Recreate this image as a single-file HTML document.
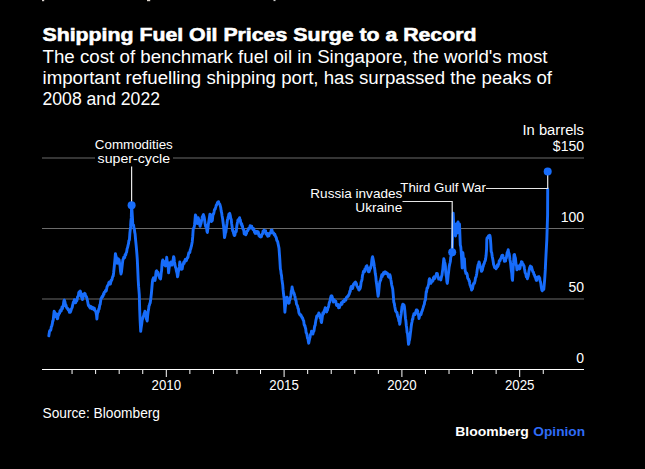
<!DOCTYPE html>
<html><head><meta charset="utf-8"><title>Shipping Fuel Oil Prices Surge to a Record</title>
<style>html,body{margin:0;padding:0;background:#000;width:645px;height:469px;overflow:hidden}</style>
</head><body>
<svg width="645" height="469" viewBox="0 0 645 469" style="position:absolute;left:0;top:0" font-family="'Liberation Sans', sans-serif">
<line x1="42" y1="158.0" x2="584" y2="158.0" stroke="#6b6b6b" stroke-width="1"/><line x1="42" y1="228.5" x2="584" y2="228.5" stroke="#6b6b6b" stroke-width="1"/><line x1="42" y1="299.0" x2="584" y2="299.0" stroke="#6b6b6b" stroke-width="1"/>
<line x1="42" y1="369.5" x2="584" y2="369.5" stroke="#fff" stroke-width="1"/>
<line x1="72.06" y1="369" x2="72.06" y2="374" stroke="#fff" stroke-width="1"/><line x1="95.62" y1="369" x2="95.62" y2="374" stroke="#fff" stroke-width="1"/><line x1="119.18" y1="369" x2="119.18" y2="374" stroke="#fff" stroke-width="1"/><line x1="142.74" y1="369" x2="142.74" y2="374" stroke="#fff" stroke-width="1"/><line x1="166.30" y1="369" x2="166.30" y2="377" stroke="#fff" stroke-width="1"/><line x1="189.86" y1="369" x2="189.86" y2="374" stroke="#fff" stroke-width="1"/><line x1="213.42" y1="369" x2="213.42" y2="374" stroke="#fff" stroke-width="1"/><line x1="236.98" y1="369" x2="236.98" y2="374" stroke="#fff" stroke-width="1"/><line x1="260.54" y1="369" x2="260.54" y2="374" stroke="#fff" stroke-width="1"/><line x1="284.10" y1="369" x2="284.10" y2="377" stroke="#fff" stroke-width="1"/><line x1="307.66" y1="369" x2="307.66" y2="374" stroke="#fff" stroke-width="1"/><line x1="331.22" y1="369" x2="331.22" y2="374" stroke="#fff" stroke-width="1"/><line x1="354.78" y1="369" x2="354.78" y2="374" stroke="#fff" stroke-width="1"/><line x1="378.34" y1="369" x2="378.34" y2="374" stroke="#fff" stroke-width="1"/><line x1="401.90" y1="369" x2="401.90" y2="377" stroke="#fff" stroke-width="1"/><line x1="425.46" y1="369" x2="425.46" y2="374" stroke="#fff" stroke-width="1"/><line x1="449.02" y1="369" x2="449.02" y2="374" stroke="#fff" stroke-width="1"/><line x1="472.58" y1="369" x2="472.58" y2="374" stroke="#fff" stroke-width="1"/><line x1="496.14" y1="369" x2="496.14" y2="374" stroke="#fff" stroke-width="1"/><line x1="519.70" y1="369" x2="519.70" y2="377" stroke="#fff" stroke-width="1"/><line x1="543.26" y1="369" x2="543.26" y2="374" stroke="#fff" stroke-width="1"/>
<path d="M48.8,335.9 L49.2,333.6 L49.5,331.3 L49.9,330.5 L50.4,330.5 L50.9,329.5 L51.3,326.8 L51.6,326.7 L52.0,325.2 L52.4,323.4 L52.7,321.0 L53.1,320.9 L53.6,316.1 L54.1,311.3 L54.5,311.7 L54.8,314.7 L55.2,316.7 L55.6,314.5 L55.9,313.7 L56.3,314.0 L56.8,316.2 L57.3,318.8 L57.7,318.7 L58.0,315.5 L58.4,315.6 L58.8,313.6 L59.2,313.6 L59.6,313.3 L60.0,310.8 L60.4,310.6 L60.8,309.7 L61.2,311.0 L61.6,309.2 L62.0,307.0 L62.4,308.7 L62.8,306.2 L63.2,306.0 L63.6,303.0 L63.9,300.9 L64.3,300.1 L64.8,301.4 L65.3,303.9 L65.7,305.9 L66.0,305.1 L66.4,307.1 L66.8,307.9 L67.2,308.6 L67.6,308.3 L68.0,309.2 L68.3,310.1 L68.7,309.5 L69.1,310.3 L69.4,312.4 L69.8,311.2 L70.3,312.2 L70.7,311.3 L71.1,310.0 L71.5,308.6 L71.9,308.1 L72.3,307.0 L72.6,305.2 L73.0,303.9 L73.3,302.2 L73.7,302.6 L74.1,301.3 L74.4,299.6 L74.8,299.9 L75.1,302.0 L75.5,302.8 L76.0,301.8 L76.5,300.7 L76.8,300.8 L77.2,299.2 L77.6,296.8 L77.9,296.4 L78.3,296.4 L78.8,292.4 L79.2,292.1 L79.6,291.5 L79.9,292.2 L80.3,291.1 L80.8,292.7 L81.3,296.4 L81.7,297.4 L82.0,297.2 L82.4,299.6 L82.8,298.3 L83.1,296.9 L83.5,294.3 L83.9,294.4 L84.3,295.1 L84.7,293.3 L85.1,293.7 L85.5,295.2 L85.9,295.9 L86.3,296.8 L86.7,297.5 L87.2,299.5 L87.7,301.7 L88.1,304.0 L88.4,305.6 L88.8,305.5 L89.2,306.1 L89.6,307.3 L90.0,306.1 L90.4,308.1 L90.8,308.0 L91.2,306.6 L91.6,307.5 L92.0,308.9 L92.5,308.8 L92.9,307.6 L93.3,308.7 L93.7,308.7 L94.0,309.8 L94.3,308.2 L94.7,309.9 L95.2,310.8 L95.6,311.0 L96.1,313.0 L96.5,314.9 L96.9,319.0 L97.3,314.3 L97.8,312.2 L98.2,312.0 L98.7,309.1 L99.1,309.2 L99.5,306.5 L99.8,304.9 L100.2,304.4 L100.6,301.3 L101.0,298.6 L101.5,298.3 L101.9,297.0 L102.3,296.3 L102.7,296.6 L103.1,295.6 L103.5,293.8 L103.9,294.4 L104.3,292.1 L104.7,292.0 L105.1,291.7 L105.5,290.5 L105.9,291.3 L106.3,290.7 L106.7,288.5 L107.1,286.6 L107.5,285.8 L107.9,285.1 L108.3,285.0 L108.8,282.7 L109.3,282.0 L109.7,282.6 L110.0,283.6 L110.4,284.0 L110.8,282.2 L111.2,280.3 L111.6,280.4 L112.0,279.5 L112.4,277.5 L112.8,276.4 L113.2,276.0 L113.6,273.0 L114.0,269.1 L114.5,264.0 L115.0,258.8 L115.4,253.6 L115.8,255.6 L116.3,256.9 L116.8,260.7 L117.2,263.4 L117.7,259.7 L118.2,258.7 L118.7,260.4 L119.1,259.7 L119.6,263.8 L120.1,266.2 L120.5,271.2 L121.0,274.0 L121.5,271.9 L121.9,268.1 L122.4,263.6 L122.9,259.7 L123.4,258.8 L123.8,257.2 L124.3,257.8 L124.7,257.5 L125.0,255.1 L125.3,254.4 L125.7,255.0 L126.2,252.7 L126.6,252.2 L127.1,248.8 L127.6,247.5 L128.1,245.1 L128.5,243.7 L128.9,240.5 L129.4,240.0 L129.9,232.8 L130.6,226.9 L130.9,220.9 L131.3,217.9 L131.6,205.2 L132.0,210.6 L132.4,216.9 L132.8,224.6 L133.2,225.1 L133.6,225.1 L133.9,228.6 L134.3,228.4 L134.7,232.1 L135.1,234.0 L135.4,237.7 L135.8,241.8 L136.2,245.8 L136.6,250.3 L136.9,254.1 L137.3,259.7 L137.8,270.8 L138.2,279.9 L138.6,286.4 L138.9,289.8 L139.3,294.9 L139.7,309.8 L140.1,320.2 L140.7,331.4 L141.1,328.0 L141.6,324.7 L142.0,321.5 L142.3,319.5 L142.7,318.7 L143.2,316.7 L143.7,315.7 L144.1,313.5 L144.5,313.8 L144.9,311.3 L145.3,312.0 L145.7,313.3 L146.1,316.5 L146.5,319.4 L146.8,319.6 L147.2,321.0 L147.7,315.1 L148.2,311.3 L148.6,309.4 L149.0,305.9 L149.4,305.3 L149.8,303.5 L150.2,303.0 L150.5,300.8 L150.9,297.8 L151.4,293.3 L151.9,287.6 L152.3,283.0 L152.7,279.8 L153.1,278.9 L153.5,277.8 L153.9,278.3 L154.3,279.9 L154.6,279.9 L155.0,280.6 L155.4,278.3 L155.8,273.9 L156.2,271.3 L156.6,270.7 L157.0,272.6 L157.4,273.4 L157.8,272.1 L158.2,274.3 L158.6,275.3 L158.9,276.5 L159.3,276.7 L159.7,278.2 L160.1,277.4 L160.5,279.0 L160.9,276.2 L161.2,272.9 L161.6,270.5 L162.0,264.4 L162.4,261.2 L162.8,260.0 L163.2,260.9 L163.6,261.1 L164.0,262.0 L164.4,263.6 L164.8,265.3 L165.1,264.8 L165.5,265.9 L165.9,264.3 L166.3,261.6 L166.7,257.3 L167.1,261.0 L167.4,261.6 L167.8,264.3 L168.2,267.7 L168.6,272.8 L169.0,269.1 L169.4,266.2 L169.8,264.3 L170.2,262.6 L170.5,263.1 L170.9,262.0 L171.3,264.2 L171.7,265.1 L172.1,265.1 L172.5,262.9 L172.8,261.3 L173.2,259.6 L173.6,256.6 L174.0,257.7 L174.4,261.7 L174.8,263.5 L175.2,266.3 L175.6,267.5 L176.0,268.2 L176.4,271.1 L176.8,272.4 L177.1,273.6 L177.5,276.7 L177.9,275.5 L178.3,272.1 L178.7,270.5 L179.1,268.6 L179.4,266.2 L179.8,262.0 L180.2,263.5 L180.6,265.3 L181.0,267.4 L181.4,269.3 L181.8,269.1 L182.2,269.0 L182.6,266.4 L182.9,264.7 L183.3,264.3 L183.7,262.2 L184.1,263.4 L184.5,261.2 L184.9,261.7 L185.2,259.4 L185.6,261.1 L186.0,259.7 L186.4,260.7 L186.8,259.2 L187.2,257.8 L187.6,257.9 L188.0,257.3 L188.4,254.6 L188.9,252.6 L189.3,252.5 L189.8,252.5 L190.3,249.6 L190.7,248.8 L191.1,247.1 L191.5,245.8 L192.2,241.9 L192.7,236.9 L193.2,229.3 L193.7,228.0 L194.2,227.1 L194.6,224.2 L195.0,220.0 L195.4,215.0 L195.9,216.0 L196.3,218.8 L196.8,220.4 L197.3,223.5 L197.8,220.0 L198.2,217.8 L198.6,218.9 L199.1,221.6 L199.6,224.2 L200.1,226.3 L200.6,224.2 L201.0,223.5 L201.5,220.9 L202.0,218.8 L202.3,216.6 L202.7,217.9 L203.1,215.2 L203.4,214.6 L203.9,216.1 L204.3,217.8 L204.8,221.4 L205.2,224.4 L205.7,226.6 L206.2,226.3 L206.6,228.1 L207.0,231.6 L207.4,232.4 L207.9,228.4 L208.3,224.4 L208.7,222.0 L209.1,219.5 L209.5,216.9 L209.9,214.3 L210.4,214.6 L210.9,217.9 L211.4,221.6 L211.9,220.2 L212.3,220.7 L212.8,215.9 L213.2,214.1 L213.7,213.6 L214.2,211.3 L214.5,209.4 L214.9,209.3 L215.2,209.1 L215.6,207.5 L215.9,206.7 L216.3,205.1 L216.7,204.8 L217.0,203.8 L217.4,203.0 L217.9,201.9 L218.2,203.2 L218.6,201.7 L219.0,203.5 L219.3,203.8 L219.8,204.3 L220.2,205.6 L220.7,207.5 L221.2,211.1 L221.7,213.1 L222.1,216.0 L222.6,218.8 L223.1,222.7 L223.6,226.3 L224.0,231.0 L224.5,237.6 L224.9,236.0 L225.4,232.9 L225.8,232.4 L226.2,229.4 L226.6,226.1 L227.0,223.5 L227.4,220.0 L227.8,218.6 L228.1,217.2 L228.5,216.4 L228.8,214.4 L229.2,213.8 L229.7,213.4 L230.1,214.9 L230.4,216.2 L230.8,219.0 L231.2,219.1 L231.6,223.4 L232.1,226.6 L232.4,229.4 L232.8,231.2 L233.2,230.8 L233.5,233.1 L233.8,233.8 L234.2,235.4 L234.6,235.5 L234.9,235.0 L235.2,233.0 L235.6,232.0 L236.0,232.0 L236.3,231.2 L236.8,226.2 L237.2,223.7 L237.6,221.8 L237.9,220.1 L238.3,220.8 L238.7,219.1 L239.1,219.3 L239.6,217.7 L239.9,220.4 L240.3,219.7 L240.7,222.8 L241.0,223.7 L241.3,224.7 L241.7,223.6 L242.1,226.3 L242.4,225.6 L242.9,228.9 L243.3,229.4 L243.8,230.1 L244.2,233.9 L244.7,234.1 L245.0,233.5 L245.4,233.6 L245.8,234.8 L246.1,233.1 L246.5,233.5 L246.9,231.0 L247.2,231.2 L247.6,230.9 L248.0,230.3 L248.3,229.2 L248.7,228.2 L249.1,228.0 L249.4,228.0 L249.8,228.2 L250.1,225.6 L250.5,226.7 L250.8,226.1 L251.3,226.7 L251.7,226.2 L252.2,228.4 L252.6,228.3 L253.0,229.5 L253.3,229.6 L253.7,228.6 L254.1,230.3 L254.5,232.3 L254.9,232.3 L255.2,233.4 L255.6,231.4 L256.0,233.1 L256.4,232.2 L256.8,231.4 L257.1,233.4 L257.5,231.7 L257.9,232.2 L258.2,231.8 L258.6,233.4 L258.9,235.5 L259.3,235.0 L259.8,236.6 L260.2,235.5 L260.7,236.9 L261.1,235.1 L261.4,236.8 L261.8,235.0 L262.1,234.1 L262.6,233.9 L263.0,231.3 L263.5,231.7 L264.0,230.1 L264.4,231.7 L264.9,230.8 L265.2,231.2 L265.6,230.7 L265.9,233.8 L266.3,233.1 L266.7,234.1 L267.1,235.1 L267.4,233.5 L267.8,236.4 L268.2,235.9 L268.6,234.0 L268.9,235.9 L269.3,234.1 L269.6,233.2 L270.0,233.1 L270.4,232.6 L270.8,233.0 L271.1,230.3 L271.5,230.3 L272.0,230.1 L272.4,232.2 L272.9,233.1 L273.2,232.8 L273.6,232.9 L273.9,233.5 L274.3,235.0 L274.8,234.3 L275.2,235.4 L275.7,236.9 L276.1,237.3 L276.4,238.2 L276.8,240.5 L277.1,240.6 L277.6,241.4 L278.0,243.4 L278.5,245.8 L279.0,248.1 L279.7,257.7 L280.4,269.0 L280.8,270.6 L281.1,273.7 L281.5,275.4 L281.9,279.4 L282.3,282.2 L282.7,284.9 L283.1,289.9 L283.5,293.6 L283.8,296.0 L284.2,298.8 L284.9,312.2 L285.3,307.3 L285.7,304.2 L286.1,300.3 L286.5,300.6 L286.8,297.1 L287.2,297.3 L287.6,299.8 L287.9,300.1 L288.3,301.8 L288.7,303.3 L289.1,303.2 L289.4,300.7 L289.8,299.9 L290.1,298.8 L290.5,297.0 L290.9,295.5 L291.3,291.2 L291.7,290.3 L292.1,286.9 L292.6,289.7 L293.1,291.3 L293.5,292.7 L293.9,293.0 L294.3,294.3 L294.7,295.6 L295.0,296.5 L295.4,299.6 L295.8,299.8 L296.1,300.9 L296.5,304.2 L296.9,304.8 L297.3,305.3 L297.6,306.3 L298.0,308.5 L298.4,308.6 L298.8,312.2 L299.2,313.7 L299.6,313.9 L300.0,315.1 L300.4,314.5 L300.9,315.0 L301.3,315.8 L301.7,317.1 L302.1,317.8 L302.5,317.7 L302.9,319.3 L303.3,320.3 L303.7,320.9 L304.1,324.3 L304.5,325.7 L304.9,325.6 L305.3,327.6 L305.7,328.6 L306.1,332.6 L306.5,333.1 L306.9,334.3 L307.2,336.2 L307.6,338.4 L308.0,338.5 L308.3,341.2 L308.7,343.2 L309.2,340.7 L309.7,338.4 L310.1,337.0 L310.4,334.6 L310.8,334.1 L311.2,333.4 L311.5,331.2 L311.9,332.0 L312.4,332.3 L312.9,334.1 L313.3,331.8 L313.6,331.7 L314.0,330.9 L314.4,327.8 L314.7,325.9 L315.1,325.6 L315.5,322.7 L315.9,320.1 L316.3,318.8 L316.7,316.2 L317.1,315.8 L317.4,315.9 L317.8,315.1 L318.1,314.7 L318.4,314.7 L318.8,313.0 L319.2,313.7 L319.6,314.6 L320.0,317.7 L320.4,317.3 L320.8,318.0 L321.1,321.5 L321.5,322.6 L322.0,319.3 L322.5,315.2 L322.9,312.8 L323.3,314.1 L323.7,313.2 L324.1,310.9 L324.5,310.2 L324.8,309.5 L325.2,307.7 L325.6,309.7 L325.9,308.8 L326.2,311.0 L326.6,312.0 L327.0,310.6 L327.5,310.1 L327.9,307.7 L328.3,307.3 L328.6,306.0 L329.0,304.0 L329.4,302.4 L329.8,302.0 L330.2,299.7 L330.6,298.2 L331.0,296.0 L331.4,295.8 L331.8,295.9 L332.2,296.8 L332.6,298.6 L333.0,299.9 L333.4,302.0 L333.8,299.7 L334.2,299.7 L334.6,301.1 L335.0,300.7 L335.4,301.3 L335.8,301.3 L336.2,303.8 L336.6,305.5 L337.0,305.5 L337.4,304.5 L337.8,305.3 L338.2,304.6 L338.6,307.8 L339.0,307.7 L339.4,307.6 L339.8,306.1 L340.2,305.4 L340.6,304.5 L341.0,304.7 L341.4,302.6 L341.8,304.4 L342.2,303.4 L342.6,302.1 L343.0,301.1 L343.4,301.1 L343.8,301.3 L344.2,301.5 L344.6,299.4 L345.0,300.4 L345.4,299.2 L345.8,300.1 L346.2,298.1 L346.6,297.2 L347.0,297.0 L347.4,296.4 L347.8,296.5 L348.2,296.2 L348.6,294.9 L349.0,294.5 L349.4,293.7 L349.8,291.2 L350.2,291.7 L350.6,288.9 L350.9,287.4 L351.3,286.4 L351.7,287.8 L352.0,287.2 L352.4,288.5 L352.8,287.7 L353.2,284.9 L353.6,284.0 L354.0,284.3 L354.4,283.1 L354.8,283.7 L355.2,283.2 L355.6,282.1 L356.0,283.7 L356.4,283.6 L356.7,285.4 L357.1,286.4 L357.5,287.1 L357.9,287.9 L358.3,287.7 L358.7,289.6 L359.1,290.0 L359.5,287.2 L359.9,288.8 L360.3,287.9 L360.7,285.8 L361.1,282.3 L361.4,281.5 L361.8,280.5 L362.1,278.9 L362.5,275.4 L362.9,274.1 L363.2,272.5 L363.6,271.2 L364.0,270.9 L364.5,271.7 L364.9,269.0 L365.4,269.4 L365.8,268.7 L366.1,266.5 L366.5,266.7 L366.9,265.7 L367.3,268.5 L367.6,267.5 L368.0,271.1 L368.4,271.6 L368.8,271.1 L369.1,271.7 L369.5,270.6 L369.9,269.4 L370.3,267.5 L370.6,268.3 L371.0,266.0 L371.4,264.9 L371.8,260.7 L372.2,257.9 L372.6,256.7 L373.0,258.6 L373.4,260.6 L373.9,263.3 L374.3,266.3 L374.8,269.5 L375.3,273.8 L375.8,276.5 L376.2,281.3 L376.7,284.6 L377.2,288.8 L377.6,292.0 L378.1,296.3 L378.6,293.6 L379.0,288.8 L379.5,283.6 L380.0,281.3 L380.5,280.5 L380.9,279.2 L381.4,276.6 L381.8,274.8 L382.2,276.6 L382.5,275.3 L382.9,275.2 L383.3,273.3 L383.7,272.4 L384.0,272.4 L384.4,272.1 L384.7,273.7 L385.1,271.9 L385.5,272.5 L385.9,272.2 L386.2,272.8 L386.6,272.7 L387.0,273.8 L387.5,273.4 L387.9,274.5 L388.4,276.6 L388.8,277.1 L389.1,275.0 L389.4,276.5 L389.8,274.7 L390.3,276.3 L390.8,279.4 L391.2,281.5 L391.7,285.0 L392.2,286.9 L392.7,288.8 L393.3,295.6 L393.8,302.2 L394.3,303.5 L394.7,306.2 L395.2,308.8 L395.6,310.9 L395.9,311.4 L396.3,312.0 L396.6,312.2 L397.0,312.5 L397.4,315.2 L397.8,316.8 L398.1,317.1 L398.5,318.5 L398.9,321.1 L399.3,321.0 L399.7,324.3 L400.1,322.3 L400.4,318.7 L400.8,316.1 L401.2,313.7 L401.6,310.3 L402.0,306.7 L402.4,305.5 L402.8,304.2 L403.2,305.0 L403.6,306.8 L404.0,305.0 L404.4,306.7 L404.8,310.5 L405.1,314.1 L405.5,318.5 L405.9,321.0 L406.3,325.5 L406.7,327.9 L407.1,332.5 L407.5,333.4 L407.9,337.3 L408.5,344.3 L408.9,343.2 L409.2,340.6 L409.6,339.6 L410.0,336.6 L410.4,333.0 L410.8,330.2 L411.2,326.5 L411.6,323.7 L412.0,322.0 L412.4,319.2 L412.8,319.3 L413.2,316.1 L413.6,315.3 L413.9,313.7 L414.3,313.8 L414.7,314.6 L415.1,314.5 L415.5,312.6 L415.9,311.7 L416.3,310.0 L416.7,310.3 L417.1,310.1 L417.5,310.6 L417.9,312.6 L418.3,314.1 L418.6,315.3 L419.0,318.5 L419.4,316.6 L419.8,315.4 L420.2,315.0 L420.6,314.5 L420.9,314.7 L421.3,313.6 L421.6,311.9 L422.0,311.4 L422.4,310.0 L422.7,309.1 L423.1,307.9 L423.5,306.4 L423.9,305.1 L424.3,304.4 L424.7,301.5 L425.1,300.6 L425.5,299.7 L426.2,291.6 L426.6,291.9 L427.0,288.2 L427.5,288.2 L427.9,287.0 L428.3,285.3 L428.7,283.9 L429.1,279.9 L429.5,278.7 L430.0,279.6 L430.4,281.1 L430.9,283.4 L431.3,282.1 L431.6,281.3 L432.0,280.5 L432.4,281.5 L432.7,280.8 L433.1,280.5 L433.4,277.6 L433.8,278.7 L434.2,276.8 L434.5,278.4 L434.9,278.5 L435.2,276.8 L435.6,276.4 L436.0,275.9 L436.5,273.5 L436.9,273.9 L437.3,273.5 L437.7,275.8 L438.0,276.6 L438.4,277.7 L438.7,279.1 L439.1,278.7 L439.5,278.2 L440.0,278.1 L440.4,278.6 L440.8,279.9 L441.2,277.9 L441.6,276.3 L442.0,275.1 L442.4,271.7 L442.8,269.1 L443.1,265.7 L443.4,262.8 L443.8,258.8 L444.2,260.2 L444.6,262.1 L445.0,263.5 L445.4,266.0 L445.7,272.1 L446.1,275.2 L446.5,277.1 L446.9,281.9 L447.3,283.4 L447.7,280.3 L448.1,275.8 L448.5,272.9 L448.9,269.0 L449.2,266.6 L449.6,264.6 L450.0,263.0 L450.4,261.1 L450.7,257.3 L451.1,256.4 L451.5,255.0 L451.8,253.7 L452.2,252.3 L452.7,232.8 L453.2,213.2 L453.6,222.6 L454.0,232.0 L454.4,227.7 L454.8,226.0 L455.5,236.0 L455.9,230.1 L456.3,224.0 L456.8,228.7 L457.2,233.0 L457.6,227.2 L458.0,222.0 L458.4,225.2 L458.8,230.0 L459.5,224.0 L459.9,234.8 L460.3,245.0 L460.8,247.0 L461.2,252.0 L461.7,259.4 L462.2,268.0 L462.9,252.8 L463.3,257.3 L463.7,262.0 L464.4,258.7 L464.8,266.1 L465.2,270.7 L465.6,271.9 L465.9,273.4 L466.2,272.9 L466.6,272.9 L466.9,273.7 L467.3,275.2 L467.7,278.1 L468.1,278.8 L468.6,279.0 L469.0,281.1 L469.4,280.8 L469.7,283.5 L470.1,285.2 L470.4,285.6 L470.8,287.0 L471.2,287.8 L471.6,290.0 L472.0,289.3 L472.5,288.8 L472.9,286.3 L473.3,284.7 L473.6,283.4 L474.0,283.6 L474.4,283.3 L474.8,281.6 L475.1,280.8 L475.5,277.9 L475.9,277.3 L476.3,275.8 L476.8,273.2 L477.2,270.0 L477.6,267.6 L478.1,264.8 L478.5,265.2 L479.0,261.9 L479.4,262.8 L479.8,265.7 L480.1,265.4 L480.5,267.6 L480.9,268.6 L481.4,271.3 L481.8,271.2 L482.1,268.8 L482.4,269.9 L482.8,267.6 L483.3,266.3 L483.7,264.1 L484.2,263.8 L484.6,261.8 L484.9,261.2 L485.2,260.8 L485.6,259.1 L486.1,255.3 L486.6,248.8 L486.8,239.4 L487.2,237.7 L487.6,237.8 L488.0,237.5 L488.4,236.0 L488.7,237.7 L489.1,235.6 L489.5,235.2 L489.9,235.5 L490.3,237.5 L490.8,244.1 L491.2,251.6 L491.7,252.6 L492.2,256.3 L492.6,258.3 L493.1,261.0 L493.6,264.5 L494.1,265.7 L494.6,267.5 L495.0,267.7 L495.5,267.6 L496.0,268.8 L496.4,268.2 L496.9,266.6 L497.2,265.6 L497.6,264.7 L497.9,266.5 L498.3,264.7 L498.8,264.2 L499.2,260.8 L499.7,261.0 L500.1,260.8 L500.4,259.2 L500.8,258.5 L501.1,258.2 L501.6,256.3 L502.0,255.4 L502.4,255.1 L502.8,255.3 L503.1,256.8 L503.5,258.2 L504.0,258.7 L504.4,261.4 L504.9,261.0 L505.2,259.2 L505.6,261.0 L505.9,258.0 L506.3,258.2 L506.8,254.9 L507.2,252.5 L507.7,252.1 L508.2,249.7 L508.6,252.6 L509.1,253.5 L509.6,256.5 L510.0,260.0 L510.5,262.4 L511.0,267.6 L511.4,270.7 L511.8,273.6 L512.1,278.4 L512.5,280.3 L512.9,273.0 L513.2,267.2 L513.6,262.4 L514.0,254.9 L514.5,254.5 L514.9,256.6 L515.4,257.9 L515.8,261.8 L516.1,264.7 L516.5,265.5 L516.9,269.9 L517.3,267.6 L517.6,266.7 L518.0,268.3 L518.4,266.1 L518.8,265.9 L519.1,268.0 L519.5,269.0 L519.9,268.4 L520.3,266.2 L520.6,264.3 L521.0,264.7 L521.4,261.6 L521.8,262.5 L522.1,262.0 L522.5,264.0 L522.9,263.9 L523.3,264.5 L523.6,265.5 L524.0,265.8 L524.4,268.4 L524.8,270.6 L525.1,272.6 L525.5,273.2 L525.9,274.3 L526.3,276.8 L526.6,275.1 L527.0,276.9 L527.4,278.8 L527.8,276.9 L528.1,276.4 L528.5,274.5 L528.9,271.3 L529.3,269.7 L529.6,268.0 L530.0,267.2 L530.4,266.1 L530.8,266.7 L531.1,268.5 L531.5,266.9 L531.9,268.4 L532.3,270.2 L532.6,271.0 L533.0,272.1 L533.4,272.1 L533.8,274.0 L534.1,274.7 L534.5,275.0 L534.9,276.6 L535.4,277.3 L535.8,278.7 L536.3,280.3 L536.7,280.4 L537.0,277.5 L537.4,277.1 L537.8,277.3 L538.2,278.3 L538.5,276.9 L538.9,276.6 L539.3,278.1 L539.7,278.0 L540.0,280.9 L540.4,281.5 L540.8,283.3 L541.2,286.6 L541.5,288.2 L541.9,290.3 L542.3,290.7 L542.7,289.6 L543.0,288.8 L543.4,288.4 L543.8,289.3 L544.2,284.8 L544.6,280.3 L545.3,269.9 L545.6,263.0 L546.0,254.9 L546.4,247.3 L546.8,240.0 L547.2,227.5 L547.6,215.0 L547.7,189.0" fill="none" stroke="#176cfa" stroke-width="2.9" stroke-linejoin="round" stroke-linecap="round"/>
<rect x="95" y="136" width="78" height="32" fill="#000"/><text x="133.8" y="148.6" font-size="13.5" font-weight="normal" text-anchor="middle" fill="#fff" textLength="78" lengthAdjust="spacingAndGlyphs">Commodities</text><text x="133.8" y="162.9" font-size="13.5" font-weight="normal" text-anchor="middle" fill="#fff" textLength="72.5" lengthAdjust="spacingAndGlyphs">super-cycle</text><line x1="131.6" y1="166.5" x2="131.6" y2="205.2" stroke="#e6e6e6" stroke-width="1.2"/><circle cx="131.6" cy="205.2" r="4" fill="#176cfa"/><polyline points="402.5,201.5 452.2,201.5 452.2,252.3" fill="none" stroke="#e6e6e6" stroke-width="1.2"/><circle cx="452.2" cy="252.3" r="4" fill="#176cfa"/><text x="402.3" y="197.9" font-size="13.5" font-weight="normal" text-anchor="end" fill="#fff" textLength="92" lengthAdjust="spacingAndGlyphs">Russia invades</text><text x="402.3" y="211.9" font-size="13.5" font-weight="normal" text-anchor="end" fill="#fff" textLength="47" lengthAdjust="spacingAndGlyphs">Ukraine</text><text x="400.3" y="191.8" font-size="13.5" font-weight="normal" text-anchor="start" fill="#fff" textLength="85.5" lengthAdjust="spacingAndGlyphs">Third Gulf War</text><polyline points="486,188.5 547.7,188.5 547.7,171.4" fill="none" stroke="#e6e6e6" stroke-width="1.2"/><circle cx="547.7" cy="171.4" r="4" fill="#176cfa"/>
<text x="42.5" y="41" font-size="18" font-weight="bold" text-anchor="start" fill="#fff" textLength="434" lengthAdjust="spacingAndGlyphs" stroke="#fff" stroke-width="0.55">Shipping Fuel Oil Prices Surge to a Record</text><text x="42.5" y="62.5" font-size="18" font-weight="normal" text-anchor="start" fill="#fff" textLength="505" lengthAdjust="spacingAndGlyphs">The cost of benchmark fuel oil in Singapore, the world&#39;s most</text><text x="42.5" y="83.5" font-size="18" font-weight="normal" text-anchor="start" fill="#fff" textLength="509.5" lengthAdjust="spacingAndGlyphs">important refuelling shipping port, has surpassed the peaks of</text><text x="42.5" y="104.5" font-size="18" font-weight="normal" text-anchor="start" fill="#fff" textLength="117.5" lengthAdjust="spacingAndGlyphs">2008 and 2022</text><text x="584" y="134.6" font-size="14" font-weight="normal" text-anchor="end" fill="#fff" textLength="61.5" lengthAdjust="spacingAndGlyphs">In barrels</text><text x="584" y="151.3" font-size="14" font-weight="normal" text-anchor="end" fill="#fff">$150</text><text x="584" y="221.8" font-size="14" font-weight="normal" text-anchor="end" fill="#fff">100</text><text x="584" y="292.3" font-size="14" font-weight="normal" text-anchor="end" fill="#fff">50</text><text x="584" y="362.8" font-size="14" font-weight="normal" text-anchor="end" fill="#fff">0</text><text x="166.3" y="389.7" font-size="14" font-weight="normal" text-anchor="middle" fill="#fff" textLength="29.5" lengthAdjust="spacingAndGlyphs">2010</text><text x="284.1" y="389.7" font-size="14" font-weight="normal" text-anchor="middle" fill="#fff" textLength="29.5" lengthAdjust="spacingAndGlyphs">2015</text><text x="401.9" y="389.7" font-size="14" font-weight="normal" text-anchor="middle" fill="#fff" textLength="29.5" lengthAdjust="spacingAndGlyphs">2020</text><text x="519.7" y="389.7" font-size="14" font-weight="normal" text-anchor="middle" fill="#fff" textLength="29.5" lengthAdjust="spacingAndGlyphs">2025</text><text x="42.5" y="417.8" font-size="14" font-weight="normal" text-anchor="start" fill="#fff" textLength="117.5" lengthAdjust="spacingAndGlyphs">Source: Bloomberg</text><text x="455.3" y="436.4" font-size="13" font-weight="bold" text-anchor="start" fill="#fff" textLength="73.6" lengthAdjust="spacingAndGlyphs">Bloomberg</text><text x="533.3" y="436.4" font-size="13" font-weight="bold" text-anchor="start" fill="#2f6cf6" textLength="51.8" lengthAdjust="spacingAndGlyphs">Opinion</text>
<rect x="42" y="0" width="2.2" height="1.2" fill="#d8d0cc"/><rect x="147" y="0" width="3.2" height="1.2" fill="#ddd5cc"/><rect x="273.5" y="0" width="2" height="1.1" fill="#ccc"/>
</svg>
</body></html>
